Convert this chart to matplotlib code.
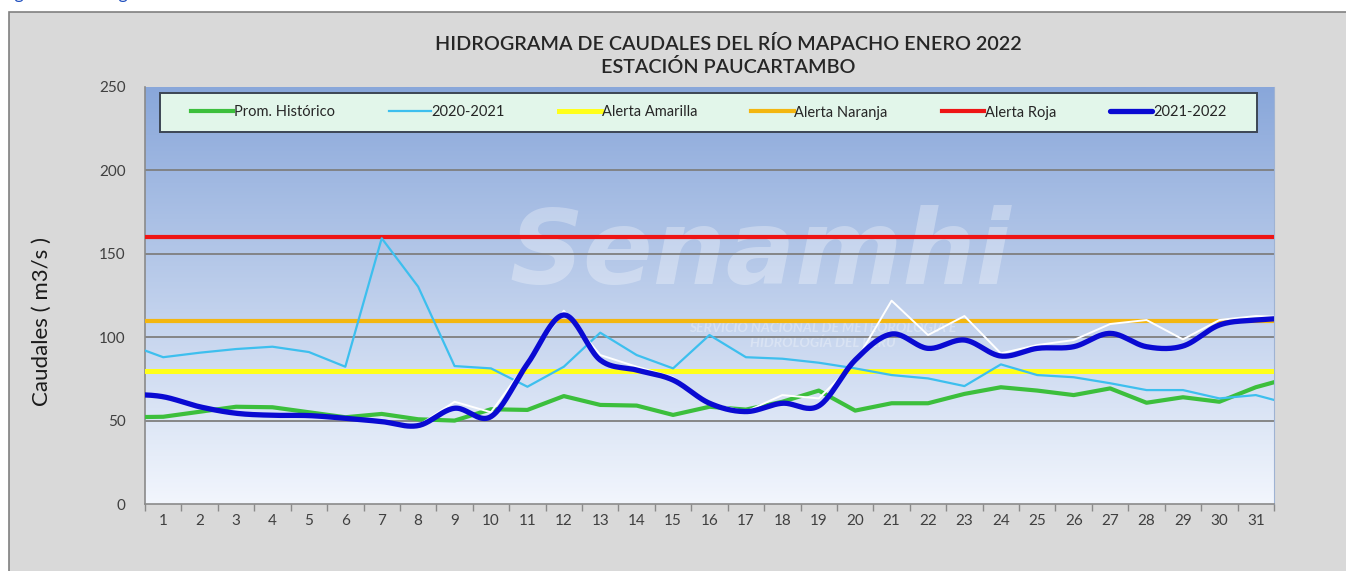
import numpy as np
import matplotlib
matplotlib.use("Agg")
import matplotlib.pyplot as plt
from matplotlib.patches import Rectangle

plt.rcParams['font.family'] = ['Lato', 'DejaVu Sans']

# ---------------- data ----------------
# index 0 = 31 Dec (clipped), 1..31 = January days, 32 = 1 Feb (clipped)
days = list(range(0, 33))
day_labels = [str(d) for d in range(1, 32)]

prom_historico = [52, 52.3, 55.3, 58.3, 58, 55, 52, 54, 50.8, 50, 56.8, 56.4, 64.7, 59.4, 59,
                  53.4, 58.3, 56.6, 61.3, 68, 56, 60.4, 60.4, 66, 70, 68, 65.3, 69.3, 60.7,
                  64, 61.3, 70, 76]
serie_2020_2021 = [96, 88, 90.7, 92.9, 94.3, 91.1, 82.3, 159.3, 130.3, 82.7, 81.3, 70.3, 82.3,
                   102.7, 89.3, 81.3, 101.3, 88, 87.1, 84.7, 81.3, 77.3, 75.3, 70.7, 83.7,
                   77.3, 76, 72.4, 68.3, 68.3, 63.3, 65.3, 59.5]
serie_2021_2022 = [66, 64.3, 58.3, 54.4, 53.2, 53, 51.4, 49.4, 47, 57.4, 52.4, 84, 113.3, 86.3,
                   80.3, 74.3, 60.4, 55.4, 60.4, 58.8, 86.3, 101.9, 93.3, 98.3, 88.7, 93.3,
                   94.3, 102.3, 94.3, 94.7, 107.3, 110.3, 111.5]
serie_white = [66, 64.3, 58.3, 54.4, 53.2, 53, 51.4, 49.4, 47, 61.3, 55, 85, 115.9, 89.3,
               82.3, 76, 60.4, 55.4, 65.3, 63.3, 85, 121.9, 101.3, 112.7, 90.3, 95.3, 98.3,
               107.9, 110.3, 98.7, 110.3, 112.7, 112]
alerta_amarilla = 80
alerta_naranja = 110
alerta_roja = 160

legend_labels = ["Prom. Histórico", "2020-2021", "Alerta Amarilla", "Alerta Naranja",
                 "Alerta Roja", "2021-2022"]
title_lines = ["HIDROGRAMA DE CAUDALES DEL RÍO MAPACHO ENERO 2022", "ESTACIÓN PAUCARTAMBO"]
ylabel = "Caudales ( m3/s )"


def catmull_rom(x, y, n=24):
    x = np.asarray(x, float)
    y = np.asarray(y, float)
    xp = np.concatenate([[2 * x[0] - x[1]], x, [2 * x[-1] - x[-2]]])
    yp = np.concatenate([[2 * y[0] - y[1]], y, [2 * y[-1] - y[-2]]])
    xs, ys = [], []
    t = np.linspace(0, 1, n, endpoint=False)
    for i in range(1, len(xp) - 2):
        p0, p1, p2, p3 = yp[i - 1], yp[i], yp[i + 1], yp[i + 2]
        q0, q1, q2, q3 = xp[i - 1], xp[i], xp[i + 1], xp[i + 2]
        b1y = p1 + (p2 - p0) / 6
        b2y = p2 - (p3 - p1) / 6
        b1x = q1 + (q2 - q0) / 6
        b2x = q2 - (q3 - q1) / 6
        ys.append((1 - t) ** 3 * p1 + 3 * (1 - t) ** 2 * t * b1y + 3 * (1 - t) * t ** 2 * b2y + t ** 3 * p2)
        xs.append((1 - t) ** 3 * q1 + 3 * (1 - t) ** 2 * t * b1x + 3 * (1 - t) * t ** 2 * b2x + t ** 3 * q2)
    xs.append([x[-1]])
    ys.append([y[-1]])
    return np.concatenate(xs), np.concatenate(ys)


W, H = 1346, 571
fig = plt.figure(figsize=(W / 100, H / 100), dpi=100, facecolor="white")

# outer chart area
bg = fig.add_axes([0, 0, 1, 1], zorder=-10)
bg.set_xlim(0, W)
bg.set_ylim(H, 0)
bg.axis("off")
bg.add_patch(Rectangle((9, 12), W, H, facecolor="#d9d9d9", edgecolor="#808080", linewidth=1.2))

# partially cut caption at top
fig.text(0 / W, 1 + 6 / H, "Figura 3: Hidrograma de caudales", color="#1f4fbf", fontsize=13,
         ha="left", va="center")

ax = fig.add_axes([145 / W, 1 - 504 / H, (1274 - 145) / W, (504 - 87) / H])
ax.set_xlim(0.5, 31.5)
ax.set_ylim(0, 250)

# gradient background
grad = np.linspace(0, 1, 256).reshape(-1, 1)
top = np.array([137, 167, 218]) / 255
bot = np.array([242, 246, 253]) / 255
img = top * (1 - grad[..., None]) + bot * grad[..., None]
img = img.reshape(256, 1, 3)
ax.imshow(img, extent=[0, 1, 0, 1], transform=ax.transAxes, aspect="auto", zorder=0)
ax.set_facecolor("white")

# watermark
ax.text(0.545, 0.595, "Senamhi", transform=ax.transAxes, fontsize=74, fontweight="bold",
        fontstyle="italic", color="white", alpha=0.3, ha="center", va="center", zorder=1,
        family=["DejaVu Sans"])
ax.text(0.60, 0.405, "SERVICIO NACIONAL DE METEOROLOGÍA E\nHIDROLOGÍA DEL PERÚ", transform=ax.transAxes,
        fontsize=10, fontweight="bold", fontstyle="italic", color="white", alpha=0.3,
        ha="center", va="center", zorder=1, linespacing=1.3)

# grid
for v in [50, 100, 150, 200]:
    ax.axhline(v, color="#7f7f7f", linewidth=1.3, zorder=2)

l_g, = ax.plot(days, prom_historico, color="#3cbf3c", linewidth=3.0, zorder=4)
l_c, = ax.plot(days, serie_2020_2021, color="#3dbfee", linewidth=1.6, zorder=4)
l_y = ax.axhline(alerta_amarilla, color="#ffff1a", linewidth=3.6, zorder=3)
l_o = ax.axhline(alerta_naranja, color="#f3b610", linewidth=3.0, zorder=3)
l_r = ax.axhline(alerta_roja, color="#ee1515", linewidth=3.0, zorder=3)
ax.plot(days, serie_white, color="white", linewidth=1.4, zorder=5)
sx, sy = catmull_rom(days, serie_2021_2022)
l_b, = ax.plot(sx, sy, color="#0a0ad2", linewidth=3.8, zorder=6, solid_capstyle="round")

# axes styling
ax.spines["top"].set_visible(False)
ax.spines["right"].set_color("#9fb3d3")
ax.spines["left"].set_color("#8a8a8a")
ax.spines["bottom"].set_color("#8a8a8a")
ax.spines["left"].set_linewidth(1.2)
ax.spines["bottom"].set_linewidth(1.2)

ax.set_yticks([0, 50, 100, 150, 200, 250])
ax.tick_params(axis="y", length=0, pad=14, labelsize=11, labelcolor="#404040")
ax.set_xticks(np.arange(0.5, 32, 1))
ax.set_xticklabels([])
ax.tick_params(axis="x", which="major", length=5, width=1, color="#8a8a8a", direction="out")
ax.set_xticks(range(1, 32), minor=True)
ax.set_xticklabels(day_labels, minor=True)
ax.tick_params(axis="x", which="minor", length=0, pad=7, labelsize=11, labelcolor="#404040")

# legend box
ax.add_patch(Rectangle(((160 - 145) / 1129, (504 - 132) / 417), (1257 - 160) / 1129,
                       (132 - 93) / 417, transform=ax.transAxes, facecolor="#e2f6ea",
                       edgecolor="#3c4654", linewidth=1.4, zorder=7))
leg = ax.legend([l_g, l_c, l_y, l_o, l_r, l_b], legend_labels, ncol=6, frameon=False,
                loc="center", bbox_to_anchor=(((160 + 1257) / 2 - 145) / 1129,
                                              (504 - 112.5) / 417),
                fontsize=10.5, handlelength=2.9, handletextpad=0.05, columnspacing=3.7,
                labelcolor="#262626")
leg.set_zorder(8)

# title
fig.text(728 / W, 1 - 44 / H, title_lines[0], ha="center", va="center", fontsize=14.2,
         color="#262626", fontweight="semibold")
fig.text(728 / W, 1 - 67 / H, title_lines[1], ha="center", va="center", fontsize=14.2,
         color="#262626", fontweight="semibold")
fig.text(42 / W, 1 - 321 / H, ylabel, rotation=90, ha="center", va="center", fontsize=16,
         color="#1a1a1a")

fig.savefig("out.png", dpi=100, facecolor="white")
